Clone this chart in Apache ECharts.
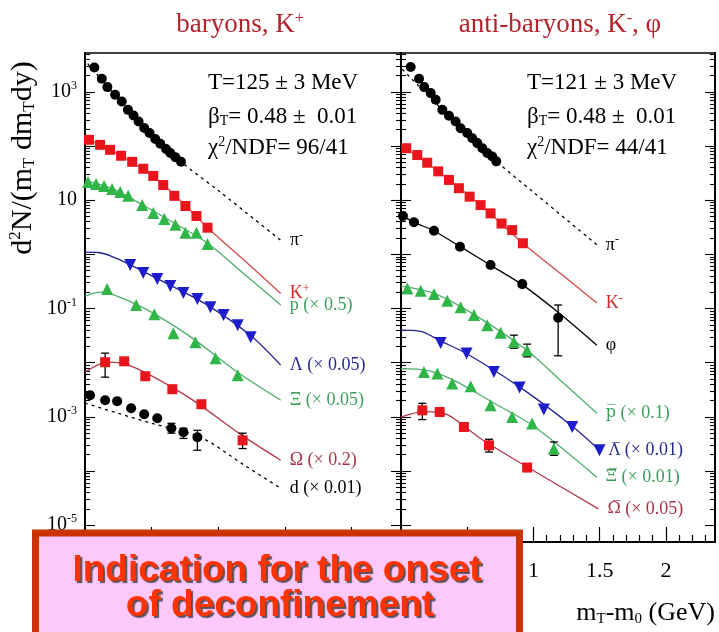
<!DOCTYPE html>
<html><head><meta charset="utf-8">
<script src="https://cdn.jsdelivr.net/npm/echarts@6/dist/echarts.min.js"></script>
<style>html,body{margin:0;padding:0;background:#fff}#c{width:719px;height:632px}</style>
</head><body><div id="c"></div>
<script>
// ---------------- data (x = mT-m0 in GeV, y = d2N/(mT dmT dy)) ----------------
// left panel: baryons, K+
const L_pi   = [[0.07,2810],[0.126,1740],[0.168,1220],[0.226,881],[0.276,661],[0.322,464],[0.364,365],[0.402,282],[0.444,214],[0.484,173],[0.527,134],[0.565,110],[0.608,88],[0.64,74],[0.678,62],[0.72,51]];
const L_K    = [[0.03,130],[0.113,105],[0.188,85],[0.271,66],[0.354,51],[0.437,38],[0.512,28],[0.587,19],[0.67,12],[0.753,7.8],[0.836,5.1],[0.919,3.1]];
const L_p    = [[0.023,21.7],[0.083,19.9],[0.143,18.3],[0.203,16.1],[0.264,14.2],[0.324,12.0],[0.429,8.1],[0.512,5.8],[0.595,4.5],[0.678,3.5],[0.753,2.5],[0.836,2.5],[0.919,1.55]];
const L_Lam  = [[0.339,0.635],[0.437,0.452],[0.542,0.35],[0.64,0.26],[0.738,0.193],[0.843,0.149],[0.941,0.106],[1.039,0.0755],[1.145,0.0493],[1.242,0.0296]];
const L_Xi   = [[0.166,0.229],[0.384,0.116],[0.52,0.0787],[0.663,0.0351],[0.828,0.0239],[0.979,0.0121],[1.145,0.00586]];
const L_Om   = [[0.151,0.0102],[0.294,0.0106],[0.452,0.00562],[0.655,0.00324],[0.873,0.00171],[1.182,0.000369]];
const L_d    = [[0.038,0.00251],[0.151,0.00203],[0.241,0.00195],[0.346,0.00144],[0.444,0.00112],[0.542,0.00094],[0.648,0.000615],[0.738,0.000519],[0.843,0.000419]];
const L_err  = [[0.151,0.0054,0.015],[1.182,0.00026,0.0005],[0.648,0.0005,0.00076],[0.738,0.0004,0.000615],[0.843,0.000242,0.000565]];
// left panel: fit curves
const LF_pi  = [[0.02,3300],[0.2,1020],[0.5,155],[0.72,51],[1.0,15],[1.47,1.8]];
const LF_K   = [[0.0,140],[0.3,60],[0.6,18],[0.92,3.1],[1.2,0.75],[1.468,0.19]];
const LF_p   = [[0.0,23],[0.2,16.5],[0.45,7.7],[0.7,3.4],[0.92,1.6],[1.2,0.42],[1.468,0.116]];
const LF_Lam = [[0.0,1.1],[0.1,1.08],[0.2,0.92],[0.34,0.64],[0.6,0.3],[0.9,0.123],[1.24,0.032],[1.468,0.009]];
const LF_Xi  = [[0.0,0.17],[0.12,0.2],[0.25,0.165],[0.5,0.085],[0.8,0.029],[1.15,0.0065],[1.468,0.00203]];
const LF_Om  = [[0.0,0.0067],[0.17,0.0102],[0.3,0.0095],[0.5,0.0057],[0.8,0.0021],[1.18,0.00045],[1.468,0.000158]];
const LF_d   = [[0.0,0.0018],[0.25,0.00116],[0.5,0.00076],[0.866,0.00042],[1.2,0.000126],[1.468,0.000048]];
// right panel: anti-baryons, K-, phi
const R_pi   = [[0.073,2860],[0.136,1740],[0.175,1220],[0.224,946],[0.262,711],[0.312,464],[0.362,360],[0.412,282],[0.45,213],[0.5,173],[0.538,139],[0.576,113],[0.614,91],[0.651,74],[0.689,64],[0.719,52]];
const R_K    = [[0.04,91],[0.123,68],[0.198,49],[0.281,34],[0.362,23.6],[0.437,16.6],[0.518,11.6],[0.601,8.1],[0.676,5.7],[0.759,3.7],[0.839,2.8],[0.92,1.6]];
const R_phi  = [[0.015,5.1],[0.098,3.9],[0.249,2.73],[0.445,1.38],[0.676,0.634],[0.915,0.282],[1.186,0.0673]];
const R_p    = [[0.048,0.235],[0.149,0.212],[0.249,0.185],[0.349,0.139],[0.45,0.105],[0.551,0.0755],[0.651,0.0493],[0.752,0.0355],[0.852,0.0242],[0.952,0.017]];
const R_Lam  = [[0.299,0.0232],[0.495,0.0148],[0.701,0.00676],[0.895,0.00348],[1.078,0.00136],[1.292,0.00065],[1.498,0.000241]];
const R_Xi   = [[0.173,0.00676],[0.274,0.00631],[0.387,0.00413],[0.526,0.00368],[0.676,0.00164],[0.839,0.000995],[0.99,0.000752],[1.154,0.000259]];
const R_Om   = [[0.161,0.00132],[0.292,0.00123],[0.475,0.00065],[0.664,0.000298],[0.952,0.000116]];
const R_err  = [[1.186,0.0134,0.116],[0.852,0.0185,0.0322],[0.952,0.0128,0.022],[1.154,0.000195,0.000344],[0.161,0.00089,0.00178],[0.664,0.000224,0.000386]];
// right panel: fit curves
const RF_pi  = [[0.01,2600],[0.3,500],[0.72,52],[1.0,14],[1.478,1.5]];
const RF_K   = [[0.0,105],[0.3,31],[0.6,8.1],[0.92,1.6],[1.2,0.45],[1.478,0.126]];
const RF_phi = [[0.0,5.3],[0.1,3.9],[0.25,2.7],[0.45,1.37],[0.7,0.58],[0.92,0.27],[1.186,0.085],[1.478,0.021]];
const RF_p   = [[0.0,0.26],[0.25,0.19],[0.55,0.078],[0.95,0.017],[1.2,0.0048],[1.478,0.00117]];
const RF_Lam = [[0.0,0.04],[0.15,0.038],[0.3,0.025],[0.5,0.0145],[0.9,0.0035],[1.3,0.00065],[1.5,0.00024]];
const RF_Xi  = [[0.0,0.0078],[0.2,0.0072],[0.4,0.0047],[0.7,0.0018],[1.0,0.00068],[1.478,0.000077]];
const RF_Om  = [[0.0,0.00099],[0.18,0.00125],[0.35,0.0011],[0.6,0.0004],[0.95,0.00012],[1.49,0.00002]];
// axes / ticks
const yDecadeTicks = [1e-5,1e-4,1e-3,1e-2,1e-1,1,10,100,1e3];
const yLabelTicks  = [1e-5,1e-3,1e-1,10,1e3];
const xMajorTicks  = [0,0.5,1,1.5,2];
const xLabelTicks  = [1,1.5,2];
const yMinorTicks = [];
yDecadeTicks.forEach(d => { for (let m = 2; m <= 9; m++) if (d*m < 5.2e3) yMinorTicks.push(d*m); });
const xMinorTicks = [];
for (let i = 1; i <= 23; i++) if (i % 5) xMinorTicks.push(i/10);

// ---------------- styling ----------------
const SERIF = '"Liberation Serif", "DejaVu Serif", serif';
const DV = '"DejaVu Serif", serif';
const Y_MIN = 4.9e-6, Y_MAX = 5.2e3, X_MAX = 2.37;
const COL = {
  black:'#000000', red:'#e8161c', redLine:'#d44a4a', redLab:'#d42a2a',
  green:'#2fb548', greenLine:'#4fae6e', greenLab:'#3c9e5c',
  blue:'#1d1dcc', blueLine:'#24248e', blueLab:'#2a2a90',
  maroon:'#b03a4c', maroonLab:'#a83448'
};
const RICH = {
  sup:{fontSize:12, fontFamily:SERIF, padding:[0,0,9,0]},
  sub:{fontSize:12, fontFamily:SERIF, padding:[7,0,0,0]},
  ov:{fontSize:16, fontFamily:DV}
};

const grids = [
  {left:85, top:53, width:316, height:489, show:true, borderColor:'#000', borderWidth:1.5, backgroundColor:'transparent'},
  {left:401, top:53, width:314, height:489, show:true, borderColor:'#000', borderWidth:1.5, backgroundColor:'transparent'}
];

function xAx(g, ticks, len, labels) {
  return {type:'value', gridIndex:g, min:0, max:X_MAX, position:'bottom',
    axisLine:{show:true, onZero:false, lineStyle:{color:'#000', width:1.5}},
    axisTick:{show:true, inside:true, length:len, customValues:ticks, lineStyle:{color:'#000', width:1.2}},
    splitLine:{show:false}, minorTick:{show:false},
    axisLabel: labels ? {show:true, customValues:labels, margin:18, fontSize:22, fontFamily:SERIF, color:'#000',
      formatter: v => String(v)} : {show:false}
  };
}
function yAx(g, pos, ticks, len, labels) {
  return {type:'log', logBase:10, gridIndex:g, position:pos, min:Y_MIN, max:Y_MAX,
    axisLine:{show:true, onZero:false, lineStyle:{color:'#000', width:1.5}},
    axisTick:{show:true, inside:true, length:len, customValues:ticks, lineStyle:{color:'#000', width:1.1}},
    splitLine:{show:false}, minorTick:{show:false},
    axisLabel: labels ? {show:true, customValues:labels, margin:8, fontSize:20, fontFamily:SERIF, color:'#000',
      formatter: v => { const e = Math.round(Math.log10(v)); return e === 1 ? '10' : '10{s|' + e + '}'; },
      rich:{s:{fontSize:12, fontFamily:SERIF, padding:[0,0,12,0]}}} : {show:false}
  };
}

const xAxes = [
  xAx(0, xMajorTicks, 15, null), xAx(0, xMinorTicks, 7, null),
  xAx(1, xMajorTicks, 15, xLabelTicks), xAx(1, xMinorTicks, 7, null)
];
const yAxes = [
  yAx(0,'left',yDecadeTicks,10,yLabelTicks), yAx(0,'left',yMinorTicks,5,null),
  yAx(0,'right',yDecadeTicks,10,null), yAx(0,'right',yMinorTicks,5,null),
  yAx(1,'left',yDecadeTicks,10,null), yAx(1,'left',yMinorTicks,5,null),
  yAx(1,'right',yDecadeTicks,10,null), yAx(1,'right',yMinorTicks,5,null)
];

function scatter(p, data, symbol, color, rot) {
  return {type:'scatter', xAxisIndex:p*2, yAxisIndex:p*4, data, symbol,
    symbolSize: symbol === 'triangle' ? 12 : 10, symbolRotate: rot || 0,
    itemStyle:{color, opacity:1}, z:5, silent:true, animation:false};
}
function fit(p, data, color, dash, text, labColor) {
  return {type:'line', xAxisIndex:p*2, yAxisIndex:p*4, data, showSymbol:false, symbol:'none',
    smooth:0.3,
    lineStyle:{color, width:1.3, type: dash ? [3,4] : 'solid'}, z:2, silent:true, animation:false,
    endLabel:{show:true, formatter:text, color:labColor, fontFamily:SERIF, fontSize:18, distance:9, rich:RICH}};
}
function errs(p, data) {
  return {type:'custom', xAxisIndex:p*2, yAxisIndex:p*4, data, z:4, silent:true, animation:false,
    encode:{x:0, y:[1,2]},
    renderItem:(params, api) => {
      const x = api.value(0);
      const a = api.coord([x, api.value(1)]), b = api.coord([x, api.value(2)]);
      const st = {stroke:'#000', lineWidth:1.3};
      return {type:'group', children:[
        {type:'line', shape:{x1:a[0], y1:a[1], x2:b[0], y2:b[1]}, style:st},
        {type:'line', shape:{x1:a[0]-4, y1:a[1], x2:a[0]+4, y2:a[1]}, style:st},
        {type:'line', shape:{x1:b[0]-4, y1:b[1], x2:b[0]+4, y2:b[1]}, style:st}
      ]};
    }};
}

const series = [
  // left
  fit(0, LF_pi, '#000', true, 'π{sup|-}', '#000'),
  fit(0, LF_K, COL.redLine, false, 'K{sup|+}', COL.redLab),
  fit(0, LF_p, COL.greenLine, false, 'p (× 0.5)', COL.greenLab),
  fit(0, LF_Lam, COL.blueLine, false, 'Λ (× 0.05)', COL.blueLab),
  fit(0, LF_Xi, COL.greenLine, false, 'Ξ (× 0.05)', COL.greenLab),
  fit(0, LF_Om, COL.maroon, false, 'Ω (× 0.2)', COL.maroonLab),
  fit(0, LF_d, '#000', true, 'd (× 0.01)', '#000'),
  errs(0, L_err),
  scatter(0, L_pi, 'circle', '#000'),
  scatter(0, L_K, 'rect', COL.red),
  scatter(0, L_p, 'triangle', COL.green),
  scatter(0, L_Lam, 'triangle', COL.blue, 180),
  scatter(0, L_Xi, 'triangle', COL.green),
  scatter(0, L_Om, 'rect', COL.red),
  scatter(0, L_d, 'circle', '#000'),
  // right
  fit(1, RF_pi, '#000', true, 'π{sup|-}', '#000'),
  fit(1, RF_K, COL.redLine, false, 'K{sup|-}', COL.redLab),
  fit(1, RF_phi, '#000', false, 'φ', '#000'),
  fit(1, RF_p, COL.greenLine, false, '{ov|p\u0305} (× 0.1)', COL.greenLab),
  fit(1, RF_Lam, COL.blueLine, false, '{ov|Λ\u0305} (× 0.01)', COL.blueLab),
  fit(1, RF_Xi, COL.greenLine, false, '{ov|Ξ\u0305} (× 0.01)', COL.greenLab),
  fit(1, RF_Om, COL.maroon, false, '{ov|Ω\u0305} (× 0.05)', COL.maroonLab),
  errs(1, R_err),
  scatter(1, R_pi, 'circle', '#000'),
  scatter(1, R_K, 'rect', COL.red),
  scatter(1, R_phi, 'circle', '#000'),
  scatter(1, R_p, 'triangle', COL.green),
  scatter(1, R_Lam, 'triangle', COL.blue, 180),
  scatter(1, R_Xi, 'triangle', COL.green),
  scatter(1, R_Om, 'rect', COL.red)
];

const TXT = {fontFamily:SERIF, fontSize:23, fill:'#000', verticalAlign:'middle'};
const TRICH = {
  sub:{fontFamily:SERIF, fontSize:14, padding:[9,0,0,0], fill:'#000'},
  sup:{fontFamily:SERIF, fontSize:14, padding:[0,0,12,0], fill:'#000'}
};
const TITLE = {fontFamily:SERIF, fontSize:27, fill:'#b3242c', align:'center', verticalAlign:'middle',
  rich:{sup:{fontFamily:SERIF, fontSize:16, fill:'#b3242c', padding:[0,0,13,0]}}};
const BOXTXT = {fontFamily:'"Liberation Sans", Arial, sans-serif', fontWeight:'bold', fontSize:37, fill:'#ff3300',
  align:'center', verticalAlign:'middle', textShadowColor:'rgba(60,60,60,0.85)', textShadowOffsetX:2, textShadowOffsetY:2, textShadowBlur:1};

const graphic = [
  {type:'text', x:240, y:25, style:Object.assign({text:'baryons, K{sup|+}'}, TITLE)},
  {type:'text', x:560, y:25, style:Object.assign({text:'anti-baryons, K{sup|-}, φ'}, TITLE)},
  {type:'text', x:208, y:83, style:Object.assign({text:'T=125 ± 3 MeV', rich:TRICH}, TXT)},
  {type:'text', x:208, y:117, style:Object.assign({text:'β{sub|T}= 0.48 ±  0.01', rich:TRICH}, TXT)},
  {type:'text', x:208, y:148, style:Object.assign({text:'χ{sup|2}/NDF= 96/41', rich:TRICH}, TXT)},
  {type:'text', x:527, y:83, style:Object.assign({text:'T=121 ± 3 MeV', rich:TRICH}, TXT)},
  {type:'text', x:527, y:117, style:Object.assign({text:'β{sub|T}= 0.48 ±  0.01', rich:TRICH}, TXT)},
  {type:'text', x:527, y:148, style:Object.assign({text:'χ{sup|2}/NDF= 44/41', rich:TRICH}, TXT)},
  {type:'text', x:23, y:158, rotation:Math.PI/2, style:{text:'d{sup|2}N/(m{sub|T} dm{sub|T}dy)', fontFamily:SERIF, fontSize:30, fill:'#000',
     align:'center', verticalAlign:'middle',
     rich:{sup:{fontFamily:SERIF, fontSize:17, fill:'#000', padding:[0,0,15,0]}, sub:{fontFamily:SERIF, fontSize:17, fill:'#000', padding:[13,0,0,0]}}}},
  {type:'text', x:715, y:613, style:{text:'m{sub|T}-m{sub|0} (GeV)', fontFamily:SERIF, fontSize:26, fill:'#000', align:'right', verticalAlign:'middle',
     rich:{sub:{fontFamily:SERIF, fontSize:15, fill:'#000', padding:[12,0,0,0]}}}},
  {type:'rect', z:100, shape:{x:35.5, y:533, width:484, height:110}, style:{fill:'#fdc9fd', stroke:'#cc3300', lineWidth:7}},
  {type:'text', z:101, x:277, y:571, style:Object.assign({text:'Indication for the onset'}, BOXTXT)},
  {type:'text', z:101, x:280, y:606, style:Object.assign({text:'of deconfinement'}, BOXTXT)}
];

const chart = echarts.init(document.getElementById('c'), null, {renderer:'canvas'});
chart.setOption({
  backgroundColor:'#ffffff', animation:false,
  grid:grids, xAxis:xAxes, yAxis:yAxes, series, graphic
});
</script>
</body></html>
